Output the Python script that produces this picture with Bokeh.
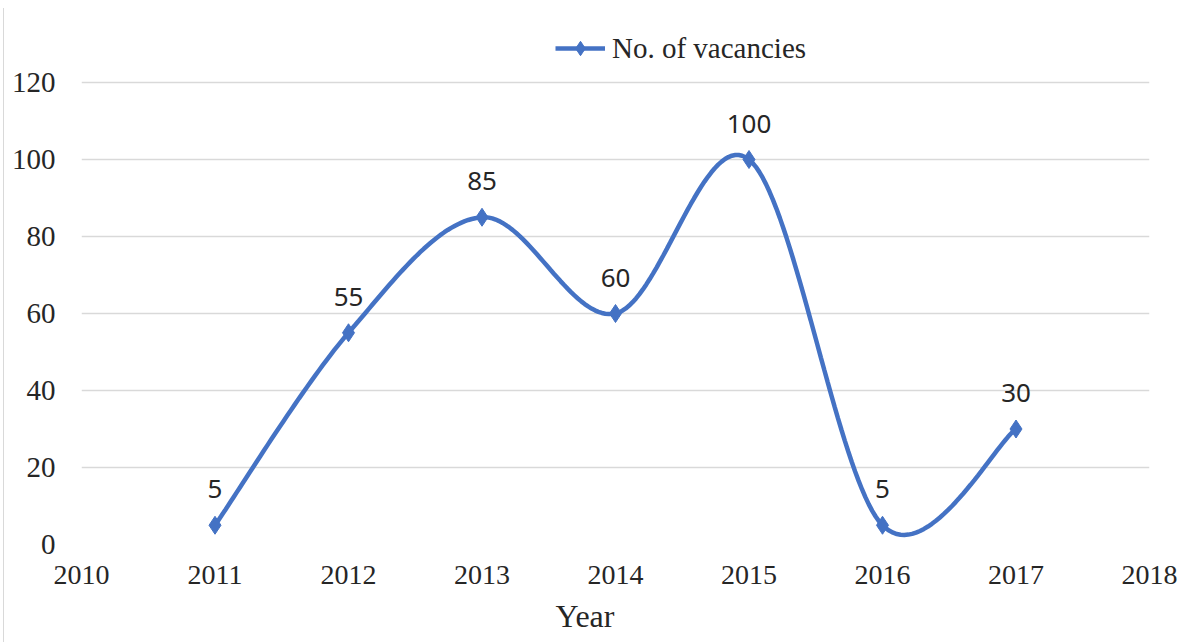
import numpy as np
from bokeh.plotting import figure
from bokeh.models import Range1d, FixedTicker, Legend, LegendItem, Title, ColumnDataSource
from bokeh.core.properties import value
from bokeh.embed import file_html
from bokeh.resources import INLINE

# ---- data ----
years = [2011, 2012, 2013, 2014, 2015, 2016, 2017]
vacancies = [5, 55, 85, 60, 100, 5, 30]
x_ticks = [2010, 2011, 2012, 2013, 2014, 2015, 2016, 2017, 2018]
y_ticks = [0, 20, 40, 60, 80, 100, 120]
series_name = "No. of vacancies"
x_title = "Year"

BLUE = "#4472C4"
GRID = "#d9d9d9"
TXT = "#262626"


def smooth(xs, ys, n=40):
    # Excel-style smoothed line (Catmull-Rom Bezier through the points)
    P = np.column_stack([xs, ys]).astype(float)
    ext = np.vstack([P[0], P, P[-1]])
    out = []
    for i in range(len(P) - 1):
        p0, p1, p2, p3 = ext[i], ext[i + 1], ext[i + 2], ext[i + 3]
        c1 = p1 + (p2 - p0) / 6.0
        c2 = p2 - (p3 - p1) / 6.0
        t = np.linspace(0, 1, n)[:, None]
        seg = ((1 - t) ** 3) * p1 + 3 * ((1 - t) ** 2) * t * c1 + 3 * (1 - t) * t ** 2 * c2 + t ** 3 * p2
        out.append(seg if i == 0 else seg[1:])
    S = np.vstack(out)
    return S[:, 0], S[:, 1]


sx, sy = smooth(years, vacancies)

# frame: 462 px for 0..120; extra headroom above 120 holds the legend
px_per_unit = 462 / 120.0
y_top = y_ticks[-1] + 62 / px_per_unit

p = figure(width=1185, height=634, output_backend="svg", toolbar_location=None,
           x_range=Range1d(x_ticks[0], x_ticks[-1]), y_range=Range1d(y_ticks[0], y_top),
           min_border_left=77, min_border_right=40, min_border_top=12, min_border_bottom=98)
p.styles = {"margin-left": "3px", "margin-top": "8px", "border-left": "1px solid #d9d9d9"}
p.outline_line_color = None
p.background_fill_color = "white"
p.border_fill_color = "white"

p.xgrid.visible = False
p.ygrid.grid_line_color = GRID
p.ygrid.grid_line_width = 1.5

p.xaxis.ticker = FixedTicker(ticks=x_ticks)
p.yaxis.ticker = FixedTicker(ticks=y_ticks)
for ax in (p.xaxis, p.yaxis):
    ax.axis_line_color = None
    ax.major_tick_line_color = None
    ax.minor_tick_line_color = None
    ax.major_label_text_font = "Liberation Serif"
    ax.major_label_text_color = TXT
p.xaxis.major_label_text_font_size = "28px"
p.yaxis.major_label_text_font_size = "29px"
p.xaxis.major_label_standoff = 15
p.yaxis.major_label_standoff = 20

line = p.line(sx, sy, line_color=BLUE, line_width=4.5)
pts = p.scatter(years, vacancies, marker="diamond", size=18, fill_color=BLUE, line_color=BLUE)

src = ColumnDataSource(dict(x=years, y=vacancies, t=[str(v) for v in vacancies]))
p.text(x="x", y="y", text="t", source=src, y_offset=-36, text_align="center",
       text_baseline="middle", text_font=value("Noto Sans"), text_font_size="26px",
       text_color=TXT)

legend = Legend(items=[LegendItem(label=series_name, renderers=[line, pts])],
                location=(474, 478), orientation="horizontal")
legend.border_line_color = None
legend.background_fill_alpha = 0
legend.padding = 0
legend.margin = 0
legend.glyph_width = 50
legend.glyph_height = 36
legend.label_standoff = 7
legend.label_text_font = "Liberation Serif"
legend.label_text_font_size = "29px"
legend.label_text_color = TXT
p.add_layout(legend, "center")

p.add_layout(Title(text=x_title, align="left", offset=474, standoff=18,
                   text_font="Liberation Serif", text_font_size="32px",
                   text_font_style="normal", text_color=TXT), "below")

open("out.html", "w").write(file_html(p, INLINE))
